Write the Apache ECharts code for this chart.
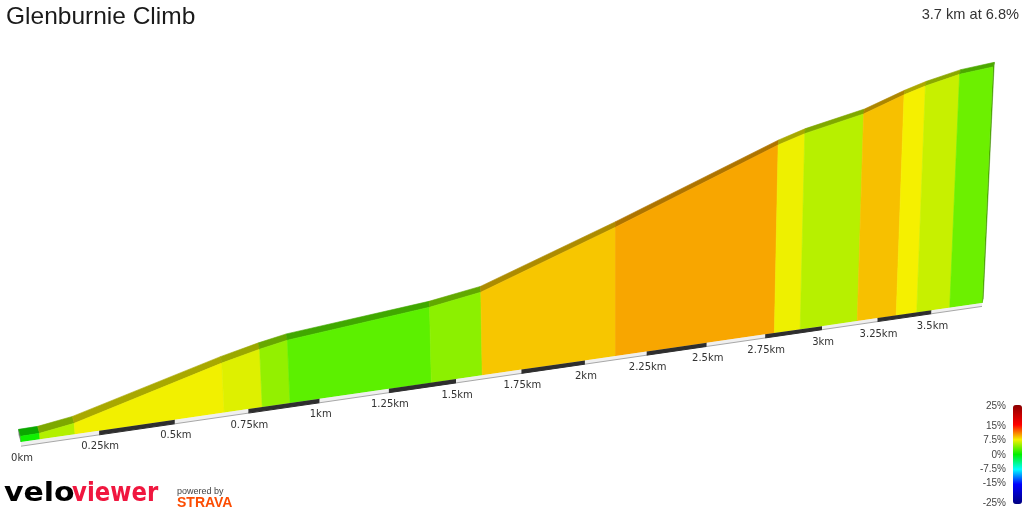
<!DOCTYPE html>
<html>
<head>
<meta charset="utf-8">
<script src="https://cdn.jsdelivr.net/npm/echarts@6/dist/echarts.min.js"></script>
<style>html,body{margin:0;padding:0;background:#fff}#chart{width:1024px;height:512px}</style>
</head>
<body>
<div id="chart"></div>
<script>
// ---------------- data ----------------
const TITLE = 'Glenburnie Climb';
const SUMMARY = '3.7 km at 6.8%';
const TOTAL_KM = 3.74;
// segment boundaries along the climb (km)
const boundaryKm = [0, 0.060, 0.172, 0.667, 0.798, 0.895, 1.407, 1.599, 2.123, 2.790, 2.903, 3.158, 3.336, 3.431, 3.586, 3.74];
// elevation above the start at each boundary (m)
const elevationM = [0, 0.3, 4.8, 40.8, 49.0, 54.0, 67.9, 76.2, 124.7, 191.3, 200.5, 215.5, 232.0, 239.5, 249.0, 254.0];
// gradient of each segment (%)
const gradePct = [0.5, 5.5, 7.4, 6.8, 4.5, 2.8, 4.3, 8.8, 9.8, 7.3, 5.6, 9.0, 7.5, 6.1, 3.3];
// distance ticks
const tickKm = [0, 0.25, 0.5, 0.75, 1, 1.25, 1.5, 1.75, 2, 2.25, 2.5, 2.75, 3, 3.25, 3.5];
const tickLabels = ['0km', '0.25km', '0.5km', '0.75km', '1km', '1.25km', '1.5km', '1.75km', '2km', '2.25km', '2.5km', '2.75km', '3km', '3.25km', '3.5km'];
// gradient legend
const legendValues = [-25, -15, -7.5, 0, 7.5, 15, 25];
const legendStops = [[-25, '#000080'], [-15, '#0000ff'], [-7.5, '#00ffff'], [0, '#00f000'], [7.5, '#f5f000'], [15, '#ff0000'], [25, '#8b0000']];

// ---------------- helpers ----------------
const Y_MIN = -5, Y_MAX = 255;
const PERSP = 0.2356;      // perspective shrink toward the far end
const BASE_RISE = 139;     // how far the base line climbs on screen
const LEAN = 1.27e-4, LEAN_CENTER = 0.619;
const DEPTH_DX = 0.0034, DEPTH_DY = 7;

function hexToRgb(h) {
  h = h.replace('#', '');
  return [parseInt(h.slice(0, 2), 16), parseInt(h.slice(2, 4), 16), parseInt(h.slice(4, 6), 16)];
}
function toRgb(c) {
  if (c[0] === '#') return hexToRgb(c);
  const m = c.match(/[\d.]+/g).map(Number);
  return [m[0], m[1], m[2]];
}
function rgbStr(a) { return 'rgb(' + a.map(v => Math.round(v)).join(',') + ')'; }
function gradeColor(g) {
  for (let i = 0; i < legendStops.length - 1; i++) {
    const [g0, c0] = legendStops[i], [g1, c1] = legendStops[i + 1];
    if (g >= g0 - 1e-9 && g <= g1 + 1e-9) {
      const t = (g - g0) / (g1 - g0), a = hexToRgb(c0), b = hexToRgb(c1);
      return rgbStr(a.map((v, k) => v + (b[k] - v) * t));
    }
  }
  return legendStops[legendStops.length - 1][1];
}
const palette = [];
for (let i = 0; i <= 20; i++) palette.push(gradeColor(-25 + i * 2.5));
function shade(c, f) { return rgbStr(toRgb(c).map(v => v * f)); }

function project(cs, pt) {
  const u = (pt[0] - cs.x) / cs.width;
  const v = (cs.y + cs.height - pt[1]) / cs.height;
  const w = 1 + PERSP * u;
  const k = (1 + PERSP) * u / w;
  const xb = cs.x + cs.width * k;
  const yb = cs.y + cs.height - BASE_RISE * k;
  const hp = (cs.height - BASE_RISE) * (1 + PERSP) * v / w;
  const cx = cs.x + LEAN_CENTER * cs.width;
  return { x: xb + LEAN * (xb - cx) * hp, y: yb - hp, w: w, cx: cx };
}
function backOf(p) {
  return [p.x + DEPTH_DX * (p.x - p.cx), p.y - DEPTH_DY / (p.w * p.w)];
}

const profileData = gradePct.map((g, i) => [boundaryKm[i], boundaryKm[i + 1], elevationM[i], elevationM[i + 1], g]);
const tickData = tickKm.map((t, i) => [t, i + 1 < tickKm.length ? tickKm[i + 1] : TOTAL_KM, i]);

function renderProfile(params, api) {
  const cs = params.coordSys;
  const d0 = api.value(0), d1 = api.value(1), e0 = api.value(2), e1 = api.value(3);
  const P = (d, e) => project(cs, api.coord([d, e]));
  const B0 = P(d0, Y_MIN), B1 = P(d1, Y_MIN), T0 = P(d0, e0), T1 = P(d1, e1);
  const K0 = backOf(T0), K1 = backOf(T1);
  const col = api.visual('color');
  const topCol = shade(col, 0.7);
  const children = [
    { type: 'polygon', shape: { points: [[T0.x, T0.y], [T1.x, T1.y], K1, K0] },
      style: { fill: topCol, stroke: topCol, lineWidth: 0.6 } },
    { type: 'polygon', shape: { points: [[B0.x, B0.y], [B1.x, B1.y], [T1.x, T1.y], [T0.x, T0.y]] },
      style: { fill: col, stroke: col, lineWidth: 0.6 } }
  ];
  if (params.dataIndex === 0) {
    const kb = backOf(B0);
    children.unshift({ type: 'polygon', shape: { points: [[B0.x, B0.y], [T0.x, T0.y], K0, kb] },
      style: { fill: '#7a7a7a', stroke: '#7a7a7a', lineWidth: 0.5 } });
  }
  if (params.dataIndex === profileData.length - 1) {
    const kb = backOf(B1);
    const capCol = shade(col, 0.6);
    children.unshift({ type: 'polygon', shape: { points: [[B1.x, B1.y], [T1.x, T1.y], K1, kb] },
      style: { fill: capCol, stroke: capCol, lineWidth: 0.5 } });
  }
  return { type: 'group', children: children };
}

function renderTicks(params, api) {
  const cs = params.coordSys;
  const a = api.value(0), b = api.value(1), idx = api.value(2);
  const A = project(cs, api.coord([a, Y_MIN])), B = project(cs, api.coord([b, Y_MIN]));
  const ta = 4.2 / A.w, tb = 4.2 / B.w;
  const dark = idx % 2 === 1;
  const children = [
    { type: 'polygon', shape: { points: [[A.x, A.y], [B.x, B.y], [B.x, B.y + tb], [A.x, A.y + ta]] },
      style: { fill: dark ? '#2e2e2e' : '#efefef' } },
    { type: 'line', shape: { x1: A.x, y1: A.y + ta, x2: B.x, y2: B.y + tb },
      style: { stroke: dark ? '#2e2e2e' : '#a8a8a8', lineWidth: 1 } },
    { type: 'text', x: A.x + 1, y: A.y + 16,
      style: { text: tickLabels[idx], fill: '#333', font: '10px "DejaVu Sans"', align: 'center', verticalAlign: 'middle' } }
  ];
  return { type: 'group', children: children };
}

const chart = echarts.init(document.getElementById('chart'), null, { renderer: 'canvas' });
chart.setOption({
  animation: false,
  backgroundColor: '#ffffff',
  title: [
    { text: TITLE, left: 1, top: 0, padding: 5,
      textStyle: { fontSize: 24.5, fontWeight: 'normal', color: '#1a1a1a', fontFamily: 'Liberation Sans' } },
    { text: SUMMARY, right: 0, top: 2, padding: 5,
      textStyle: { fontSize: 14.6, fontWeight: 'normal', color: '#333', fontFamily: 'Liberation Sans' } }
  ],
  grid: [
    { left: 21, right: 42, top: 66, bottom: 70 },
    { left: 1013, top: 406.7, width: 9, height: 96.3 }
  ],
  xAxis: [
    { type: 'value', gridIndex: 0, min: 0, max: TOTAL_KM, show: false },
    { type: 'value', gridIndex: 1, min: 0, max: 1, show: false }
  ],
  yAxis: [
    { type: 'value', gridIndex: 0, min: Y_MIN, max: Y_MAX, show: false },
    { type: 'value', gridIndex: 1, min: -25, max: 25, position: 'left',
      axisLine: { show: false }, axisTick: { show: false }, splitLine: { show: false },
      axisLabel: { customValues: legendValues, formatter: v => v + '%', fontSize: 10,
        color: '#444', margin: 7, fontFamily: 'Liberation Sans' } }
  ],
  visualMap: {
    type: 'continuous', min: -25, max: 25, dimension: 4, seriesIndex: 0,
    inRange: { color: palette }, calculable: false, hoverLink: false,
    orient: 'vertical', left: 1013, top: 405, itemWidth: 9, itemHeight: 99, padding: 0
  },
  graphic: [
    { type: 'text', x: 4, y: 494, scaleX: 1.15,
      style: { text: 'velo', font: 'bold 26px "DejaVu Sans"', fill: '#000', verticalAlign: 'middle' } },
    { type: 'text', x: 72, y: 494, scaleX: 0.88,
      style: { text: 'viewer', font: 'bold 26px "DejaVu Sans"', fill: '#f0173f', verticalAlign: 'middle' } },
    { type: 'text', x: 177, y: 491.5,
      style: { text: 'powered by', font: '9px "Liberation Sans"', fill: '#444', verticalAlign: 'middle' } },
    { type: 'text', x: 177, y: 503,
      style: { text: 'STRAVA', font: 'bold 14px "Liberation Sans"', fill: '#fc4c02', verticalAlign: 'middle' } }
  ],
  series: [
    { type: 'custom', name: 'profile', coordinateSystem: 'cartesian2d', xAxisIndex: 0, yAxisIndex: 0,
      dimensions: ['d0', 'd1', 'e0', 'e1', 'grade'], encode: { x: [0, 1], y: [2, 3] },
      clip: false, renderItem: renderProfile, data: profileData },
    { type: 'custom', name: 'distance', coordinateSystem: 'cartesian2d', xAxisIndex: 0, yAxisIndex: 0,
      dimensions: ['from', 'to', 'idx'], encode: { x: [0, 1] },
      clip: false, renderItem: renderTicks, data: tickData }
  ]
});
</script>
</body>
</html>
